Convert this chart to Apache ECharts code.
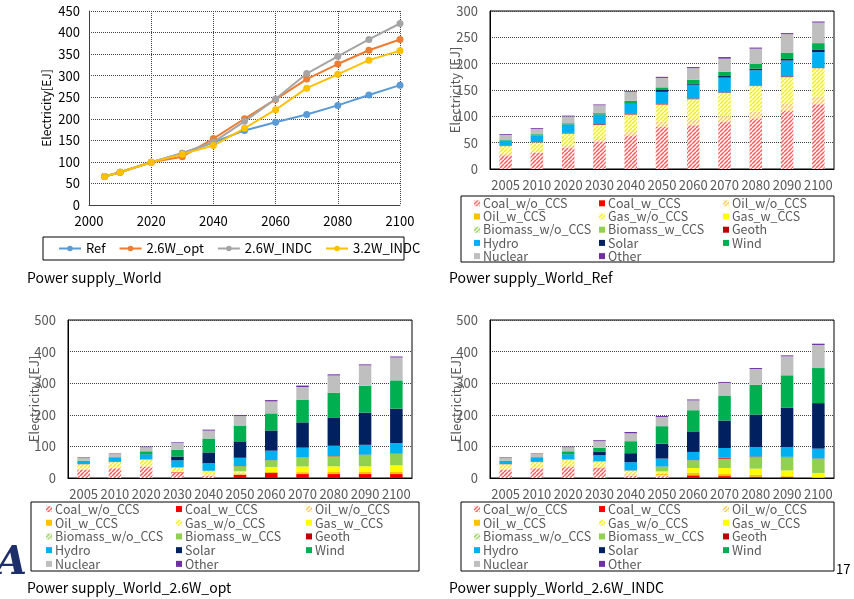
<!DOCTYPE html>
<html>
<head>
<meta charset="utf-8">
<script src="https://cdn.jsdelivr.net/npm/echarts@6/dist/echarts.min.js"></script>
<style>
  html, body { margin: 0; padding: 0; background: #fff; }
  #chart { width: 854px; height: 599px; }
</style>
</head>
<body>
<div id="chart"></div>
<script>
// Model years and tick labels
const years = ['2005', '2010', '2020', '2030', '2040', '2050', '2060', '2070', '2080', '2090', '2100'];
const yearValues = [2005, 2010, 2020, 2030, 2040, 2050, 2060, 2070, 2080, 2090, 2100];

// Total power supply by scenario [EJ]
const totalRef = [66, 76, 99, 120, 145, 173, 192, 210, 231, 255, 278];
const total26opt = [66, 76, 99, 112, 154, 200, 245, 292, 327, 359, 384];
const total26indc = [66, 76, 99, 120, 146, 194, 246, 305, 345, 384, 421];
const total32indc = [66, 76, 99, 118, 138, 178, 221, 271, 303, 336, 358];

// Power sources, bottom to top of each stack
const sources = ['Coal_w/o_CCS', 'Coal_w_CCS', 'Oil_w/o_CCS', 'Oil_w_CCS', 'Gas_w/o_CCS', 'Gas_w_CCS',
  'Biomass_w/o_CCS', 'Biomass_w_CCS', 'Geoth', 'Hydro', 'Solar', 'Wind', 'Nuclear', 'Other'];

// Ref scenario [EJ]
const refCoalWo = [26, 31, 41, 52, 64, 80, 83, 89, 96, 110, 123];
const refCoalW = [0, 0, 0, 0, 0, 0, 0, 0, 0, 0, 0];
const refOilWo = [4, 3, 4, 5, 8, 10, 12, 11, 13, 15, 14];
const refOilW = [0, 0, 0, 0, 0, 0, 0, 0, 0, 0, 0];
const refGasWo = [13, 16, 22, 26, 31, 32, 37, 44, 48, 49, 54];
const refGasW = [0, 0, 0, 0, 0, 0, 0, 0, 0, 0, 0];
const refBioWo = [0.5, 0.5, 0.5, 0.5, 0.5, 0.5, 0.5, 0.5, 0.5, 0.5, 0.5];
const refBioW = [0, 0, 0, 0, 0, 0, 0, 0, 0, 0, 0];
const refGeoth = [0.5, 0.5, 1, 1.5, 1, 1, 1.5, 1, 1, 1.5, 1.5];
const refHydro = [10, 13, 16, 18, 19, 23, 26, 28, 29, 30, 29];
const refSolar = [0, 0, 0.3, 0.5, 1, 3.5, 1.5, 3, 3, 3, 5];
const refWind = [1, 2, 2, 2.5, 5, 5, 8, 8, 9, 12, 12];
const refNuclear = [10, 10, 13, 15, 17, 18, 22, 25, 29, 35, 39];
const refOther = [1.5, 1.5, 1.5, 1.5, 1.5, 2, 2, 3, 2, 2, 2];

// 2.6W_opt scenario [EJ]
const optCoalWo = [26, 31, 36, 16, 7, 0, 0, 0, 0, 0, 0];
const optCoalW = [0, 0, 0, 2, 0, 10.5, 16, 12.5, 12.5, 12.5, 12.5];
const optOilWo = [4, 3, 3, 2, 5, 1, 0, 0, 0, 0, 0];
const optOilW = [0, 0, 0, 0, 0, 3, 3, 6, 6.5, 6.5, 6.5];
const optGasWo = [13, 16, 19, 13, 5, 5, 0, 0, 0, 0, 0];
const optGasW = [0, 0, 0, 0, 4, 2, 16, 18, 18, 18, 21];
const optBioWo = [0.5, 0.5, 0.5, 0.5, 1, 0, 0, 0, 0, 0, 0];
const optBioW = [0, 0, 0, 0, 0.5, 16, 21, 29, 31.5, 36, 38];
const optGeoth = [0.5, 0.5, 0.5, 0.5, 0.5, 0.5, 0.5, 0.5, 1, 1, 1];
const optHydro = [10, 13, 16, 22, 24, 26, 30, 30, 32.5, 31, 31.5];
const optSolar = [0, 0, 0.5, 12, 34, 52, 64, 80, 88, 102, 109];
const optWind = [1, 2, 9, 21.5, 44, 50, 54, 71, 80, 84.5, 89.5];
const optNuclear = [10, 10, 13, 21.5, 25, 30, 38, 41, 54.5, 65, 72.5];
const optOther = [1.5, 1.5, 2, 2, 3, 3, 4, 4.5, 3.5, 3, 3];

// 2.6W_INDC scenario [EJ]
const indcCoalWo = [26, 31, 35, 31, 7, 6, 0, 0, 0, 0, 0];
const indcCoalW = [0, 0, 0, 1.5, 0, 0, 8.5, 6, 4, 3, 0];
const indcOilWo = [4, 3, 3, 3, 6, 3, 0, 0, 0, 0, 0];
const indcOilW = [0, 0, 0, 0, 0, 3.5, 8.5, 7.5, 6.5, 3, 3];
const indcGasWo = [13, 16, 20, 16.5, 9, 5, 0, 0, 0, 0, 0];
const indcGasW = [0, 0, 0, 0, 1, 3.5, 14.5, 18, 19, 18, 13];
const indcBioWo = [0.5, 0.5, 0.5, 0.5, 0.5, 0, 0, 0, 0, 0, 0];
const indcBioW = [0, 0, 0, 0, 0, 15, 24.5, 29.5, 36.5, 42, 45];
const indcGeoth = [0.5, 0.5, 0.5, 0.5, 0.5, 0.5, 0.5, 3, 2, 1, 1];
const indcHydro = [10, 13, 16, 19, 26, 25, 26, 31, 30, 31, 31];
const indcSolar = [0, 0, 0.5, 10.5, 28.5, 47, 65, 87, 103, 124, 144];
const indcWind = [1, 2, 9, 13, 38, 55.5, 67, 79, 94, 103, 111];
const indcNuclear = [10, 10, 13, 21, 25, 29, 31, 40, 50, 60, 73];
const indcOther = [1.5, 1.5, 2, 3, 4, 3, 3, 3, 3, 3, 4];

const refMix = [refCoalWo, refCoalW, refOilWo, refOilW, refGasWo, refGasW, refBioWo, refBioW,
  refGeoth, refHydro, refSolar, refWind, refNuclear, refOther];
const optMix = [optCoalWo, optCoalW, optOilWo, optOilW, optGasWo, optGasW, optBioWo, optBioW,
  optGeoth, optHydro, optSolar, optWind, optNuclear, optOther];
const indcMix = [indcCoalWo, indcCoalW, indcOilWo, indcOilW, indcGasWo, indcGasW, indcBioWo, indcBioW,
  indcGeoth, indcHydro, indcSolar, indcWind, indcNuclear, indcOther];

// Diagonal hatch fill for sources without CCS
function hatch(color) {
  const c = document.createElement('canvas');
  c.width = 4; c.height = 4;
  const g = c.getContext('2d');
  g.fillStyle = '#ffffff';
  g.fillRect(0, 0, 4, 4);
  g.strokeStyle = color;
  g.lineWidth = 1.5;
  g.beginPath();
  for (const k of [-4, 0, 4]) { g.moveTo(k, 4); g.lineTo(k + 4, 0); }
  g.stroke();
  return { image: c, repeat: 'repeat' };
}

const fills = [
  hatch('#ff5a5a'), '#ff0000', hatch('#ffc84a'), '#ffc000', hatch('#f5f000'), '#ffff00',
  hatch('#92d050'), '#92d050', '#c00000', '#00b0f0', '#002060', '#00b050', '#bfbfbf', '#7030a0'
];

const FONT = '"Noto Sans CJK JP", "Noto Sans", sans-serif';
const GRAY = '#595959';

function stackSeries(mix, idx, stackId) {
  return sources.map((name, i) => ({
    type: 'bar',
    name: name,
    xAxisIndex: idx,
    yAxisIndex: idx,
    stack: stackId,
    barWidth: '40%',
    data: mix[i],
    itemStyle: { color: fills[i] },
    emphasis: { disabled: true }
  }));
}

const lineDefs = [
  ['Ref', totalRef, '#5b9bd5'],
  ['2.6W_opt', total26opt, '#ed7d31'],
  ['2.6W_INDC', total26indc, '#a5a5a5'],
  ['3.2W_INDC', total32indc, '#ffc000']
];
const lineSeries = lineDefs.map(([name, vals, color]) => ({
  type: 'line',
  name: name,
  xAxisIndex: 0,
  yAxisIndex: 0,
  data: yearValues.map((y, i) => [y, vals[i]]),
  symbol: 'circle',
  symbolSize: 7,
  lineStyle: { width: 2, color: color },
  itemStyle: { color: color },
  emphasis: { disabled: true }
}));

const barGrids = [
  { left: 490, top: 11, width: 344, height: 158 },
  { left: 68, top: 320, width: 344, height: 158 },
  { left: 490, top: 320, width: 344, height: 158 }
];

function barX(gridIndex) {
  return {
    type: 'category', gridIndex: gridIndex, data: years,
    axisLine: { show: true, lineStyle: { color: '#000', width: 1 } },
    axisTick: { show: false },
    axisLabel: { color: GRAY, fontSize: 13, margin: 10, fontFamily: FONT, interval: 0 },
    splitLine: { show: false }
  };
}
function barY(gridIndex, max, interval, gap) {
  return {
    type: 'value', gridIndex: gridIndex, min: 0, max: max, interval: interval,
    name: 'Electricity [EJ]', nameLocation: 'middle', nameGap: gap, nameMoveOverlap: false,
    nameTextStyle: { color: GRAY, fontSize: 13, fontFamily: FONT },
    axisLine: { show: true, lineStyle: { color: '#000', width: 1 } },
    axisTick: { show: false },
    axisLabel: { color: GRAY, fontSize: 13, margin: 12, fontFamily: FONT },
    splitLine: { show: true, lineStyle: { color: '#404040', type: 'dotted', width: 1 } }
  };
}

const col1 = ['Coal_w/o_CCS', 'Oil_w_CCS', 'Biomass_w/o_CCS', 'Hydro', 'Nuclear'];
const col2 = ['Coal_w_CCS', 'Gas_w/o_CCS', 'Biomass_w_CCS', 'Solar', 'Other'];
const col3 = ['Oil_w/o_CCS', 'Gas_w_CCS', 'Geoth', 'Wind'];

function sourceLegend(names, left, top, lh) {
  return {
    orient: 'vertical', left: left, top: top, padding: 0, itemGap: 0,
    itemWidth: 6, itemHeight: 6, icon: 'rect',
    data: names, selectedMode: false,
    textStyle: { color: GRAY, fontSize: 12.5, lineHeight: lh, fontFamily: FONT, padding: [0, 0, 0, -2] }
  };
}

const legends = [
  {
    orient: 'horizontal', left: 58, top: 241.5, padding: 0, itemGap: 13,
    itemWidth: 22, itemHeight: 7, selectedMode: false,
    data: ['Ref', '2.6W_opt', '2.6W_INDC', '3.2W_INDC'],
    textStyle: { color: '#000', fontSize: 13, lineHeight: 14, fontFamily: FONT }
  },
  sourceLegend(col1, 474, 196.7, 13.2), sourceLegend(col2, 599, 196.7, 13.2), sourceLegend(col3, 723, 196.7, 13.2),
  sourceLegend(col1, 46, 502.2, 13.7), sourceLegend(col2, 176, 502.2, 13.7), sourceLegend(col3, 306, 502.2, 13.7),
  sourceLegend(col1, 474, 502.2, 13.7), sourceLegend(col2, 599, 502.2, 13.7), sourceLegend(col3, 723, 502.2, 13.7)
];

function box(x, y, w, h) {
  return { type: 'rect', shape: { x: x, y: y, width: w, height: h }, style: { fill: 'none', stroke: '#000', lineWidth: 1 }, silent: true, z: 0 };
}

const titleStyle = { fontSize: 14, fontWeight: 'normal', color: '#000', fontFamily: FONT };

const option = {
  animation: false,
  textStyle: { fontFamily: FONT },
  title: [
    { text: 'Power supply_World', left: 27, top: 271, padding: 0, textStyle: titleStyle },
    { text: 'Power supply_World_Ref', left: 449, top: 271, padding: 0, textStyle: titleStyle },
    { text: 'Power supply_World_2.6W_opt', left: 27, top: 581, padding: 0, textStyle: titleStyle },
    { text: 'Power supply_World_2.6W_INDC', left: 449, top: 581, padding: 0, textStyle: titleStyle }
  ],
  grid: [
    { left: 89, top: 11, width: 311, height: 194, show: false },
    Object.assign({ show: true, borderColor: '#000', borderWidth: 1 }, barGrids[0]),
    Object.assign({ show: true, borderColor: '#000', borderWidth: 1 }, barGrids[1]),
    Object.assign({ show: true, borderColor: '#000', borderWidth: 1 }, barGrids[2])
  ],
  xAxis: [
    {
      type: 'value', gridIndex: 0, min: 2000, max: 2100, interval: 20,
      axisLine: { show: true, lineStyle: { color: '#404040', width: 1 } },
      axisTick: { show: false },
      axisLabel: { color: '#000', fontSize: 13, margin: 10, fontFamily: FONT, formatter: v => String(v) },
      splitLine: { show: true, lineStyle: { color: '#404040', type: 'dotted', width: 1 } }
    },
    barX(1), barX(2), barX(3)
  ],
  yAxis: [
    {
      type: 'value', gridIndex: 0, min: 0, max: 450, interval: 50,
      name: 'Electricity[EJ]', nameLocation: 'middle', nameGap: 37, nameMoveOverlap: false,
      nameTextStyle: { color: '#000', fontSize: 12, fontFamily: FONT },
      axisLine: { show: true, lineStyle: { color: '#404040', width: 1 } },
      axisTick: { show: false },
      axisLabel: { color: '#000', fontSize: 13, margin: 9, fontFamily: FONT },
      splitLine: { show: true, lineStyle: { color: '#404040', type: 'dotted', width: 1 } }
    },
    barY(1, 300, 50, 28.5),
    barY(2, 500, 100, 27.5),
    barY(3, 500, 100, 27.5)
  ],
  legend: legends,
  graphic: [
    box(43, 237, 361, 23),
    box(461, 196, 373, 66),
    box(31, 502, 388, 69),
    box(461, 502, 373, 69),
    { type: 'text', left: 836, top: 563, silent: true,
      style: { text: '17', fill: '#000', fontSize: 13, fontFamily: FONT } },
    { type: 'text', left: -4, top: 544, silent: true,
      style: { text: 'A', fill: '#1c2f6b', fontSize: 40, fontWeight: 'bold', fontStyle: 'italic', fontFamily: 'DejaVu Serif' } }
  ],
  series: [].concat(
    lineSeries,
    stackSeries(refMix, 1, 'ref'),
    stackSeries(optMix, 2, 'opt'),
    stackSeries(indcMix, 3, 'indc')
  )
};

const chart = echarts.init(document.getElementById('chart'), null, { renderer: 'canvas' });
chart.setOption(option);
</script>
</body>
</html>
